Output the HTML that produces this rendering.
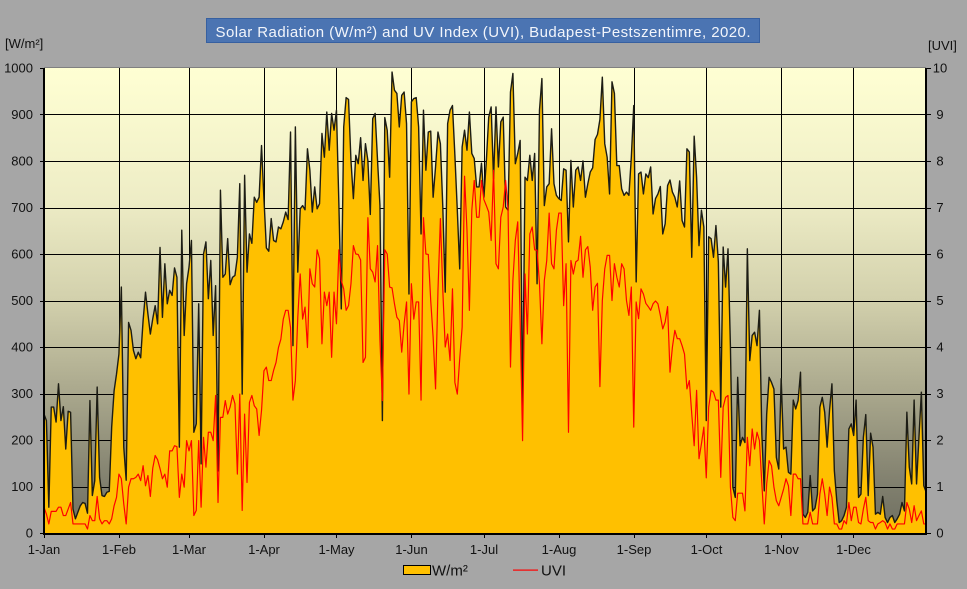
<!DOCTYPE html>
<html>
<head>
<meta charset="utf-8">
<style>
html,body{margin:0;padding:0;background:#a6a6a6;}
svg{display:block;}
text{font-family:"Liberation Sans",Arial,sans-serif;}
</style>
</head>
<body>
<svg width="967" height="589" viewBox="0 0 967 589" xmlns="http://www.w3.org/2000/svg">
<defs>
<linearGradient id="bg" x1="0" y1="0" x2="0" y2="1">
<stop offset="0" stop-color="#ffffd3"/>
<stop offset="0.28" stop-color="#eeedc6"/>
<stop offset="0.5" stop-color="#d2d0ac"/>
<stop offset="0.7" stop-color="#a9a78c"/>
<stop offset="0.88" stop-color="#838270"/>
<stop offset="1" stop-color="#6e6e60"/>
</linearGradient>
</defs>
<rect x="0" y="0" width="967" height="589" fill="#a6a6a6"/>
<!-- title -->
<rect x="206.5" y="18.5" width="553" height="24" fill="#4b74b2" stroke="#3760a0" stroke-width="1"/>
<text x="215.5" y="37" font-size="15" fill="#f2f5fb" textLength="535" lengthAdjust="spacing">Solar Radiation (W/m²) and UV Index (UVI), Budapest-Pestszentimre, 2020.</text>
<!-- axis unit labels -->
<text x="5" y="48" font-size="13" fill="#111">[W/m²]</text>
<text x="928" y="50" font-size="13" fill="#111">[UVI]</text>
<!-- plot background -->
<rect x="44" y="68" width="882" height="466" fill="url(#bg)"/>
<rect x="44" y="67" width="882" height="1" fill="#808080"/>
<!-- gridlines -->
<g fill="#000" shape-rendering="crispEdges">
<rect x="44" y="114" width="882" height="1"/>
<rect x="44" y="161" width="882" height="1"/>
<rect x="44" y="208" width="882" height="1"/>
<rect x="44" y="254" width="882" height="1"/>
<rect x="44" y="301" width="882" height="1"/>
<rect x="44" y="347" width="882" height="1"/>
<rect x="44" y="394" width="882" height="1"/>
<rect x="44" y="440" width="882" height="1"/>
<rect x="44" y="487" width="882" height="1"/>
<rect x="119" y="68" width="1" height="466"/>
<rect x="189" y="68" width="1" height="466"/>
<rect x="264" y="68" width="1" height="466"/>
<rect x="336" y="68" width="1" height="466"/>
<rect x="411" y="68" width="1" height="466"/>
<rect x="484" y="68" width="1" height="466"/>
<rect x="559" y="68" width="1" height="466"/>
<rect x="634" y="68" width="1" height="466"/>
<rect x="706" y="68" width="1" height="466"/>
<rect x="781" y="68" width="1" height="466"/>
<rect x="853" y="68" width="1" height="466"/>
</g>
<!-- data -->
<g transform="translate(44 533.7) scale(2.417 -0.4654)">
<path fill="#ffc000" stroke="none" d="M0,0 L0,257 1,243 2,57 3,272 4,272 5,240 6,322 7,243 8,273 9,182 10,263 11,261 12,53 13,32 14,46 15,60 16,67 17,65 18,44 19,286 20,82 21,114 22,315 23,121 24,82 25,80 26,89 27,91 28,229 29,307 30,343 31,386 32,530 33,186 34,115 35,454 36,437 37,394 38,376 39,390 40,378 41,458 42,519 43,472 44,429 45,462 46,490 47,451 48,615 49,465 50,580 51,494 52,523 53,512 54,571 55,551 56,186 57,652 58,426 59,537 60,573 61,630 62,218 63,236 64,494 65,150 66,601 67,627 68,505 69,587 70,426 71,533 72,135 73,738 74,551 75,558 76,634 77,535 78,551 79,555 80,594 81,752 82,300 83,770 84,562 85,644 86,624 87,723 88,712 89,723 90,834 91,720 92,614 93,607 94,677 95,630 96,627 97,659 98,655 99,670 100,691 101,675 102,863 103,404 104,874 105,562 106,698 107,705 108,696 109,827 110,781 111,691 112,745 113,698 114,709 115,860 116,809 117,906 118,824 119,903 120,867 121,910 122,709 123,483 124,874 125,937 126,933 127,802 128,720 129,813 130,795 131,851 132,759 133,838 134,802 135,686 136,892 137,903 138,802 139,705 140,243 141,894 142,867 143,766 144,992 145,953 146,946 147,874 148,942 149,949 150,881 151,515 152,928 153,935 154,937 155,874 156,644 157,910 158,781 159,863 160,865 161,723 162,788 163,863 164,838 165,702 166,519 167,881 168,910 169,920 170,813 171,695 172,569 173,831 174,867 175,824 176,906 177,817 178,806 179,745 180,745 181,796 182,723 183,800 184,895 185,917 186,763 187,917 188,788 189,885 190,895 191,702 192,695 193,949 194,989 195,795 196,817 197,845 198,260 199,766 200,759 201,813 202,759 203,817 204,537 205,910 206,978 207,705 208,745 209,752 210,870 211,752 212,727 213,720 214,716 215,784 216,781 217,627 218,802 219,702 220,781 221,788 222,759 223,801 224,723 225,752 226,777 227,786 228,847 229,858 230,890 231,981 232,838 233,809 234,730 235,971 236,946 237,791 238,791 239,741 240,727 241,734 242,727 243,809 244,920 245,541 246,773 247,777 248,730 249,773 250,765 251,788 252,687 253,720 254,730 255,746 256,644 257,666 258,748 259,760 260,734 261,723 262,702 263,758 264,673 265,659 266,827 267,820 268,594 269,854 270,766 271,619 272,695 273,659 274,243 275,638 276,634 277,594 278,662 279,584 280,272 281,616 282,530 283,612 284,401 285,100 286,78 287,336 288,189 289,207 290,196 291,612 292,372 293,426 294,433 295,404 296,480 297,214 298,92 299,257 300,336 301,325 302,311 303,164 304,139 305,333 306,182 307,186 308,132 309,128 310,287 311,268 312,286 313,347 314,42 315,35 316,46 317,125 318,49 319,55 320,85 321,272 322,293 323,261 324,186 325,265 326,322 327,135 328,71 329,24 330,28 331,39 332,57 333,225 334,236 335,211 336,287 337,78 338,85 339,207 340,256 341,82 342,216 343,186 344,42 345,46 346,42 347,80 348,35 349,24 350,35 351,39 352,24 353,32 354,42 355,67 356,49 357,261 358,143 359,107 360,287 361,107 362,207 363,304 364,103 365,89 365,0Z"/>
<polyline fill="none" stroke="#1c1c14" stroke-width="1.4" stroke-linejoin="round" vector-effect="non-scaling-stroke" points="0,257 1,243 2,57 3,272 4,272 5,240 6,322 7,243 8,273 9,182 10,263 11,261 12,53 13,32 14,46 15,60 16,67 17,65 18,44 19,286 20,82 21,114 22,315 23,121 24,82 25,80 26,89 27,91 28,229 29,307 30,343 31,386 32,530 33,186 34,115 35,454 36,437 37,394 38,376 39,390 40,378 41,458 42,519 43,472 44,429 45,462 46,490 47,451 48,615 49,465 50,580 51,494 52,523 53,512 54,571 55,551 56,186 57,652 58,426 59,537 60,573 61,630 62,218 63,236 64,494 65,150 66,601 67,627 68,505 69,587 70,426 71,533 72,135 73,738 74,551 75,558 76,634 77,535 78,551 79,555 80,594 81,752 82,300 83,770 84,562 85,644 86,624 87,723 88,712 89,723 90,834 91,720 92,614 93,607 94,677 95,630 96,627 97,659 98,655 99,670 100,691 101,675 102,863 103,404 104,874 105,562 106,698 107,705 108,696 109,827 110,781 111,691 112,745 113,698 114,709 115,860 116,809 117,906 118,824 119,903 120,867 121,910 122,709 123,483 124,874 125,937 126,933 127,802 128,720 129,813 130,795 131,851 132,759 133,838 134,802 135,686 136,892 137,903 138,802 139,705 140,243 141,894 142,867 143,766 144,992 145,953 146,946 147,874 148,942 149,949 150,881 151,515 152,928 153,935 154,937 155,874 156,644 157,910 158,781 159,863 160,865 161,723 162,788 163,863 164,838 165,702 166,519 167,881 168,910 169,920 170,813 171,695 172,569 173,831 174,867 175,824 176,906 177,817 178,806 179,745 180,745 181,796 182,723 183,800 184,895 185,917 186,763 187,917 188,788 189,885 190,895 191,702 192,695 193,949 194,989 195,795 196,817 197,845 198,260 199,766 200,759 201,813 202,759 203,817 204,537 205,910 206,978 207,705 208,745 209,752 210,870 211,752 212,727 213,720 214,716 215,784 216,781 217,627 218,802 219,702 220,781 221,788 222,759 223,801 224,723 225,752 226,777 227,786 228,847 229,858 230,890 231,981 232,838 233,809 234,730 235,971 236,946 237,791 238,791 239,741 240,727 241,734 242,727 243,809 244,920 245,541 246,773 247,777 248,730 249,773 250,765 251,788 252,687 253,720 254,730 255,746 256,644 257,666 258,748 259,760 260,734 261,723 262,702 263,758 264,673 265,659 266,827 267,820 268,594 269,854 270,766 271,619 272,695 273,659 274,243 275,638 276,634 277,594 278,662 279,584 280,272 281,616 282,530 283,612 284,401 285,100 286,78 287,336 288,189 289,207 290,196 291,612 292,372 293,426 294,433 295,404 296,480 297,214 298,92 299,257 300,336 301,325 302,311 303,164 304,139 305,333 306,182 307,186 308,132 309,128 310,287 311,268 312,286 313,347 314,42 315,35 316,46 317,125 318,49 319,55 320,85 321,272 322,293 323,261 324,186 325,265 326,322 327,135 328,71 329,24 330,28 331,39 332,57 333,225 334,236 335,211 336,287 337,78 338,85 339,207 340,256 341,82 342,216 343,186 344,42 345,46 346,42 347,80 348,35 349,24 350,35 351,39 352,24 353,32 354,42 355,67 356,49 357,261 358,143 359,107 360,287 361,107 362,207 363,304 364,103 365,89"/>
<polyline fill="none" stroke="#ff0000" stroke-width="1.2" stroke-linejoin="round" vector-effect="non-scaling-stroke" points="0,57 1,42 2,21 3,48 4,48 5,48 6,57 7,57 8,39 9,39 10,53 11,67 12,21 13,21 14,21 15,21 16,21 17,21 18,10 19,39 20,28 21,28 22,80 23,32 24,21 25,28 26,28 27,21 28,32 29,60 30,78 31,128 32,118 33,64 34,21 35,100 36,118 37,118 38,121 39,128 40,114 41,146 42,103 43,125 44,80 45,141 46,168 47,159 48,140 49,118 50,128 51,100 52,178 53,178 54,189 55,187 56,78 57,128 58,100 59,200 60,178 61,200 62,39 63,50 64,200 65,57 66,207 67,143 68,218 69,218 70,200 71,297 72,67 73,250 74,250 75,286 76,257 77,272 78,297 79,279 80,128 81,300 82,50 83,257 84,110 85,282 86,297 87,275 88,268 89,211 90,265 91,350 92,358 93,329 94,329 95,351 96,368 97,400 98,418 99,461 100,480 101,480 102,443 103,287 104,329 105,465 106,558 107,461 108,487 109,400 110,569 111,537 112,530 113,610 114,591 115,408 116,519 117,490 118,519 119,379 120,519 121,451 122,610 123,544 124,526 125,480 126,490 127,537 128,619 129,601 130,600 131,588 132,368 133,379 134,679 135,569 136,562 137,541 138,619 139,415 140,286 141,610 142,601 143,530 144,528 145,494 146,465 147,458 148,390 149,451 150,498 151,300 152,537 153,461 154,498 155,498 156,287 157,679 158,601 159,600 160,501 161,422 162,311 163,523 164,677 165,523 166,401 167,429 168,372 169,526 170,325 171,300 172,376 173,444 174,768 175,652 176,480 177,695 178,759 179,680 180,680 181,759 182,718 183,705 184,691 185,630 186,781 187,580 188,569 189,680 190,702 191,759 192,695 193,358 194,544 195,630 196,670 197,458 198,200 199,558 200,429 201,644 202,659 203,610 204,609 205,537 206,408 207,544 208,587 209,689 210,580 211,569 212,652 213,689 214,689 215,490 216,580 217,218 218,587 219,558 220,584 221,588 222,639 223,551 224,610 225,617 226,573 227,480 228,530 229,538 230,316 231,501 232,569 233,598 234,598 235,501 236,580 237,551 238,530 239,580 240,569 241,501 242,469 243,530 244,229 245,498 246,462 247,526 248,515 249,495 250,488 251,480 252,494 253,500 254,494 255,469 256,440 257,455 258,488 259,347 260,401 261,437 262,419 263,419 264,404 265,386 266,311 267,329 268,257 269,189 270,308 271,161 272,193 273,229 274,120 275,272 276,308 277,304 278,287 279,287 280,121 281,272 282,293 283,297 284,100 285,35 286,28 287,87 288,87 289,87 290,49 291,207 292,146 293,225 294,182 295,218 296,200 297,107 298,21 299,107 300,157 301,146 302,100 303,71 304,60 305,78 306,96 307,118 308,103 309,39 310,128 311,128 312,118 313,118 314,21 315,21 316,21 317,46 318,21 319,21 320,21 321,85 322,118 323,85 324,39 325,100 326,78 327,21 328,21 329,10 330,10 331,28 332,21 333,67 334,28 335,57 336,57 337,24 338,21 339,53 340,78 341,28 342,24 343,24 344,10 345,21 346,24 347,28 348,24 349,10 350,21 351,10 352,10 353,21 354,21 355,21 356,21 357,67 358,53 359,24 360,60 361,28 362,39 363,49 364,21 365,21"/>
</g>
<!-- axes -->
<g fill="#000" shape-rendering="crispEdges">
<rect x="43" y="68" width="2" height="467"/>
<rect x="925" y="68" width="2" height="467"/>
<rect x="43" y="533" width="884" height="2"/>
<!-- left ticks -->
<rect x="40" y="68" width="4" height="1"/>
<rect x="40" y="114" width="4" height="1"/>
<rect x="40" y="161" width="4" height="1"/>
<rect x="40" y="208" width="4" height="1"/>
<rect x="40" y="254" width="4" height="1"/>
<rect x="40" y="301" width="4" height="1"/>
<rect x="40" y="347" width="4" height="1"/>
<rect x="40" y="394" width="4" height="1"/>
<rect x="40" y="440" width="4" height="1"/>
<rect x="40" y="487" width="4" height="1"/>
<rect x="40" y="533" width="4" height="1"/>
<!-- right ticks -->
<rect x="926" y="68" width="5" height="1"/>
<rect x="926" y="114" width="5" height="1"/>
<rect x="926" y="161" width="5" height="1"/>
<rect x="926" y="208" width="5" height="1"/>
<rect x="926" y="254" width="5" height="1"/>
<rect x="926" y="301" width="5" height="1"/>
<rect x="926" y="347" width="5" height="1"/>
<rect x="926" y="394" width="5" height="1"/>
<rect x="926" y="440" width="5" height="1"/>
<rect x="926" y="487" width="5" height="1"/>
<rect x="926" y="533" width="5" height="1"/>
<!-- bottom ticks -->
<rect x="44" y="534" width="1" height="4"/>
<rect x="119" y="534" width="1" height="4"/>
<rect x="189" y="534" width="1" height="4"/>
<rect x="264" y="534" width="1" height="4"/>
<rect x="336" y="534" width="1" height="4"/>
<rect x="411" y="534" width="1" height="4"/>
<rect x="484" y="534" width="1" height="4"/>
<rect x="559" y="534" width="1" height="4"/>
<rect x="634" y="534" width="1" height="4"/>
<rect x="706" y="534" width="1" height="4"/>
<rect x="781" y="534" width="1" height="4"/>
<rect x="853" y="534" width="1" height="4"/>
</g>
<!-- left labels -->
<g font-size="13" fill="#111" text-anchor="end">
<text x="33" y="72.5">1000</text>
<text x="33" y="119">900</text>
<text x="33" y="165.5">800</text>
<text x="33" y="212">700</text>
<text x="33" y="258.5">600</text>
<text x="33" y="305">500</text>
<text x="33" y="351.5">400</text>
<text x="33" y="398">300</text>
<text x="33" y="444.5">200</text>
<text x="33" y="491">100</text>
<text x="33" y="537.5">0</text>
</g>
<!-- right labels -->
<g font-size="13" fill="#111" text-anchor="middle">
<text x="940" y="72.5">10</text>
<text x="940" y="119">9</text>
<text x="940" y="165.5">8</text>
<text x="940" y="212">7</text>
<text x="940" y="258.5">6</text>
<text x="940" y="305">5</text>
<text x="940" y="351.5">4</text>
<text x="940" y="398">3</text>
<text x="940" y="444.5">2</text>
<text x="940" y="491">1</text>
<text x="940" y="537.5">0</text>
</g>
<!-- x labels -->
<g font-size="13" fill="#111" text-anchor="middle">
<text x="44" y="554">1-Jan</text>
<text x="119" y="554">1-Feb</text>
<text x="189" y="554">1-Mar</text>
<text x="264" y="554">1-Apr</text>
<text x="336.5" y="554">1-May</text>
<text x="411.5" y="554">1-Jun</text>
<text x="484" y="554">1-Jul</text>
<text x="559" y="554">1-Aug</text>
<text x="634" y="554">1-Sep</text>
<text x="706.5" y="554">1-Oct</text>
<text x="781.5" y="554">1-Nov</text>
<text x="853.5" y="554">1-Dec</text>
</g>
<!-- legend -->
<rect x="403.5" y="565.5" width="27" height="9" fill="#ffc000" stroke="#000" stroke-width="1"/>
<text x="432" y="575.5" font-size="15" fill="#111">W/m²</text>
<rect x="513" y="569.5" width="25" height="1.2" fill="#ff0000"/>
<text x="541" y="575.5" font-size="15" fill="#111">UVI</text>
</svg>
</body>
</html>
